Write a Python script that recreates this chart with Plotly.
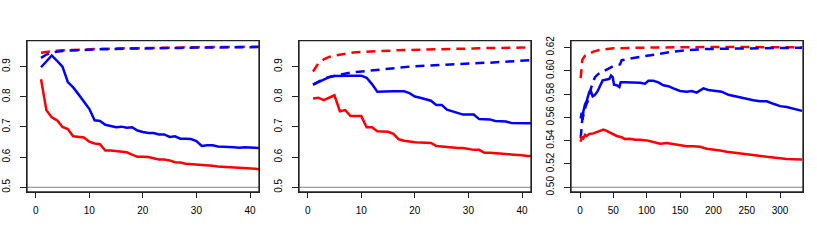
import plotly.graph_objects as go

# ---------------- Panel 1 ----------------
p1_x = list(range(1, 43))
p1_blue_solid = [0.898, 0.918, 0.937, 0.919, 0.900, 0.849, 0.831, 0.808, 0.785, 0.760,
                 0.722, 0.720, 0.707, 0.702, 0.699, 0.701, 0.697, 0.699, 0.688, 0.683,
                 0.680, 0.680, 0.675, 0.675, 0.667, 0.669, 0.661, 0.661, 0.660, 0.653,
                 0.637, 0.639, 0.639, 0.635, 0.635, 0.635, 0.633, 0.631, 0.633, 0.632,
                 0.631, 0.630]
p1_red_solid = [0.858, 0.755, 0.732, 0.722, 0.700, 0.693, 0.669, 0.667, 0.665, 0.651,
                0.645, 0.643, 0.622, 0.622, 0.620, 0.616, 0.616, 0.608, 0.601, 0.601,
                0.600, 0.596, 0.592, 0.592, 0.589, 0.583, 0.582, 0.578, 0.577, 0.574,
                0.573, 0.573, 0.571, 0.569, 0.568, 0.568, 0.566, 0.565, 0.564, 0.563,
                0.561, 0.559]
p1_red_dash = [0.946, 0.949, 0.951, 0.953, 0.954, 0.955, 0.956, 0.957, 0.957, 0.958,
               0.958, 0.959, 0.959, 0.960, 0.960, 0.960, 0.961, 0.961, 0.961, 0.962,
               0.962, 0.962, 0.962, 0.963, 0.963, 0.963, 0.963, 0.964, 0.964, 0.964,
               0.964, 0.964, 0.965, 0.965, 0.965, 0.965, 0.965, 0.966, 0.966, 0.966,
               0.966, 0.966]
p1_blue_dash = [0.929, 0.940, 0.947, 0.950, 0.952, 0.953, 0.954, 0.955, 0.956, 0.957,
                0.957, 0.958, 0.958, 0.958, 0.959, 0.959, 0.960, 0.960, 0.960, 0.961,
                0.961, 0.961, 0.961, 0.962, 0.962, 0.962, 0.962, 0.963, 0.963, 0.963,
                0.963, 0.963, 0.964, 0.964, 0.964, 0.964, 0.964, 0.965, 0.965, 0.965,
                0.965, 0.965]

# ---------------- Panel 2 ----------------
p2_x = list(range(1, 43))
p2_blue_solid = [0.840, 0.849, 0.858, 0.865, 0.869, 0.870, 0.870, 0.870, 0.870, 0.870,
                 0.863, 0.842, 0.817, 0.818, 0.819, 0.818, 0.818, 0.818, 0.812, 0.801,
                 0.797, 0.791, 0.787, 0.773, 0.773, 0.757, 0.752, 0.746, 0.741, 0.741,
                 0.741, 0.726, 0.726, 0.725, 0.720, 0.718, 0.718, 0.713, 0.712, 0.713,
                 0.712, 0.712]
p2_red_solid = [0.794, 0.797, 0.789, 0.797, 0.805, 0.752, 0.756, 0.736, 0.736, 0.736,
                0.699, 0.699, 0.686, 0.686, 0.684, 0.677, 0.659, 0.654, 0.651, 0.649,
                0.648, 0.648, 0.647, 0.637, 0.635, 0.633, 0.633, 0.630, 0.630, 0.626,
                0.624, 0.624, 0.614, 0.614, 0.613, 0.612, 0.611, 0.608, 0.608, 0.606,
                0.604, 0.603]
p2_red_dash = [0.884, 0.911, 0.924, 0.932, 0.936, 0.940, 0.943, 0.946, 0.948, 0.949,
               0.950, 0.951, 0.952, 0.952, 0.953, 0.954, 0.954, 0.955, 0.955, 0.956,
               0.956, 0.957, 0.957, 0.958, 0.958, 0.958, 0.959, 0.959, 0.960, 0.960,
               0.960, 0.961, 0.961, 0.961, 0.962, 0.962, 0.962, 0.963, 0.963, 0.963,
               0.964, 0.964]
p2_blue_dash = [0.840, 0.850, 0.860, 0.866, 0.870, 0.874, 0.877, 0.880, 0.882, 0.884,
                0.886, 0.888, 0.889, 0.891, 0.893, 0.895, 0.896, 0.898, 0.900, 0.901,
                0.902, 0.903, 0.904, 0.906, 0.907, 0.907, 0.908, 0.909, 0.910, 0.910,
                0.911, 0.912, 0.913, 0.913, 0.914, 0.915, 0.916, 0.917, 0.918, 0.919,
                0.921, 0.922]

# ---------------- Panel 3 ----------------
p3_bs_x = [1, 2.5, 4, 5, 7.5, 10, 14, 16, 19, 22, 26, 30, 34, 40, 44, 46.5, 49, 51,
           55, 59, 61, 67.5, 77.5, 90, 97.5, 102.5, 110, 117.5, 125, 132.5, 140, 150,
           160, 167.5, 175, 185, 192.5, 202.5, 212.5, 222.5, 232.5, 240, 250, 260,
           270, 280, 290, 300, 310, 320, 333]
p3_blue_solid = [0.559, 0.564, 0.558, 0.565, 0.571, 0.574, 0.582, 0.583, 0.578, 0.579,
                 0.582, 0.5875, 0.5917, 0.5925, 0.593, 0.5958, 0.5944, 0.588, 0.5875,
                 0.586, 0.590, 0.590, 0.590, 0.5897, 0.5889, 0.5914, 0.5914, 0.590,
                 0.5875, 0.5867, 0.5848, 0.5826, 0.582, 0.5826, 0.5812, 0.5848, 0.5834,
                 0.5826, 0.582, 0.5793, 0.5779, 0.5773, 0.576, 0.5746, 0.5738, 0.5738,
                 0.5716, 0.5696, 0.5688, 0.5674, 0.5655]
p3_rs_x = [1, 2.5, 5, 7.5, 10, 14, 20, 27.5, 35, 40, 45, 50, 55, 62.5, 67.5, 75, 82.5,
           90, 100, 110, 120, 130, 140, 150, 160, 170, 180, 190, 200, 210, 220, 230,
           240, 250, 260, 270, 280, 290, 300, 310, 320, 333]
p3_red_solid = [0.539, 0.543, 0.542, 0.545, 0.544, 0.5457, 0.5462, 0.5476, 0.5495,
                0.5484, 0.5468, 0.5449, 0.544, 0.5429, 0.5413, 0.5416, 0.5407, 0.5407,
                0.5402, 0.5388, 0.5374, 0.538, 0.5369, 0.536, 0.5352, 0.5352, 0.5347,
                0.533, 0.5325, 0.5316, 0.5305, 0.5297, 0.5292, 0.5283, 0.5275, 0.527,
                0.5261, 0.5256, 0.5248, 0.5242, 0.524, 0.5237]
p3_rd_x = [1, 2, 3.5, 7.5, 12.5, 20, 30, 50, 90, 140, 190, 240, 290, 333]
p3_red_dash = [0.5936, 0.6027, 0.6095, 0.6128, 0.6145, 0.6164, 0.6178, 0.6192, 0.6197,
               0.6203, 0.6203, 0.6203, 0.620, 0.620]
p3_bd_x = [1, 2, 3.5, 6, 8.5, 12.5, 15, 19, 22.5, 27.5, 34, 40, 50, 60, 62.5, 80, 100,
           120, 140, 165, 190, 220, 250, 290, 333]
p3_blue_dash = [0.5421, 0.5517, 0.5586, 0.5641, 0.5696, 0.5751, 0.582, 0.5897, 0.5944,
                0.5972, 0.5991, 0.6013, 0.604, 0.6054, 0.609, 0.6109, 0.6128, 0.6145,
                0.6164, 0.6178, 0.6186, 0.6189, 0.6192, 0.6197, 0.6197]

RED = "#FF0000"
BLUE = "#0000FF"
LW = 2.5
DASH = "9px,6px"

fig = go.Figure()


def add(x, y, color, dash, ax):
    fig.add_trace(go.Scatter(x=x, y=y, mode="lines",
                             line=dict(color=color, width=LW, dash=dash),
                             xaxis="x" + ax, yaxis="y" + ax, showlegend=False,
                             hoverinfo="skip", cliponaxis=True))


add(p1_x, p1_red_dash, RED, DASH, "")
add(p1_x, p1_blue_dash, BLUE, DASH, "")
add(p1_x, p1_red_solid, RED, "solid", "")
add(p1_x, p1_blue_solid, BLUE, "solid", "")

add(p2_x, p2_red_dash, RED, DASH, "2")
add(p2_x, p2_blue_dash, BLUE, DASH, "2")
add(p2_x, p2_red_solid, RED, "solid", "2")
add(p2_x, p2_blue_solid, BLUE, "solid", "2")

add(p3_rd_x, p3_red_dash, RED, DASH, "3")
add(p3_bd_x, p3_blue_dash, BLUE, DASH, "3")
add(p3_rs_x, p3_red_solid, RED, "solid", "3")
add(p3_bs_x, p3_blue_solid, BLUE, "solid", "3")

W, H = 817, 242
ydom = [1 - 194 / H, 1 - 37 / H]
font = dict(family="Liberation Sans, Arial, sans-serif", size=10, color="#000000")

common_x = dict(showgrid=False, zeroline=False, showline=True, mirror=True,
                linecolor="#222222", linewidth=1.3, ticks="outside", ticklen=5,
                tickcolor="#222222", tickwidth=1, tickfont=font,
                ticklabelstandoff=4)
common_y = dict(showgrid=False, zeroline=False, showline=True, mirror=True,
                linecolor="#222222", linewidth=1.3, ticks="outside", ticklen=6,
                tickcolor="#222222", tickwidth=1, tickfont=font, tickangle=-90,
                ticklabelstandoff=6)

x12_ticks = [0, 10, 20, 30, 40]
y12_ticks = [0.5, 0.6, 0.7, 0.8, 0.9]
x3_ticks = [0, 50, 100, 150, 200, 250, 300]
y3_ticks = [0.50, 0.52, 0.54, 0.56, 0.58, 0.60, 0.62]

fig.update_layout(
    width=W, height=H, margin=dict(l=0, r=0, t=0, b=0, pad=0),
    paper_bgcolor="white", plot_bgcolor="white",
    xaxis=dict(domain=[27 / W, 259 / W], range=[-1.62, 41.68], tickvals=x12_ticks,
               anchor="y", **common_x),
    yaxis=dict(domain=ydom, range=[0.485, 0.9862], tickvals=y12_ticks,
               ticktext=[f"{v:.1f}" for v in y12_ticks], anchor="x", **common_y),
    xaxis2=dict(domain=[299 / W, 531 / W], range=[-1.62, 41.68], tickvals=x12_ticks,
                anchor="y2", **common_x),
    yaxis2=dict(domain=ydom, range=[0.485, 0.9862], tickvals=y12_ticks,
                ticktext=[f"{v:.1f}" for v in y12_ticks], anchor="x2", **common_y),
    xaxis3=dict(domain=[571 / W, 803 / W], range=[-13.5, 334.4], tickvals=x3_ticks,
                anchor="y3", **common_x),
    yaxis3=dict(domain=ydom, range=[0.4961, 0.6258], tickvals=y3_ticks,
                ticktext=[f"{v:.2f}" for v in y3_ticks], anchor="x3", **common_y),
)

for ax in ["", "2", "3"]:
    fig.add_shape(type="line", xref=f"x{ax} domain", yref=f"y{ax}",
                  x0=0, x1=1, y0=0.5, y1=0.5,
                  line=dict(color="#808080", width=1), layer="below")
    fig.add_shape(type="rect", xref=f"x{ax} domain", yref=f"y{ax} domain",
                  x0=0, x1=1, y0=0, y1=1,
                  line=dict(color="#222222", width=1.3), layer="above")

fig.write_html("out.html", config={"displayModeBar": False},
               post_script="document.body.style.margin='0';document.body.style.padding='0';")
